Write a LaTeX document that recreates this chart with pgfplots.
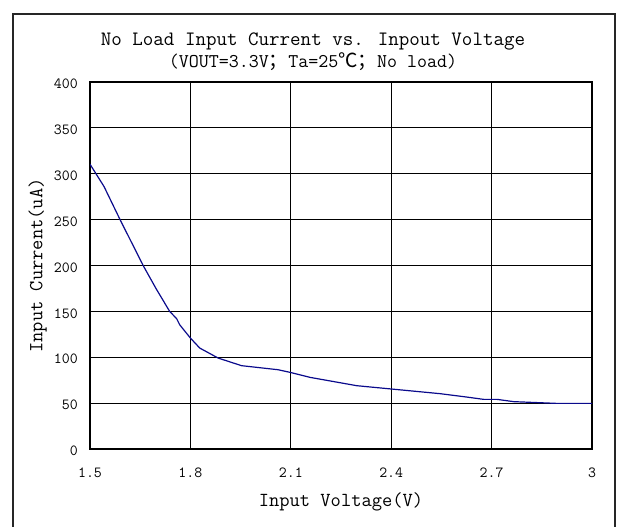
\documentclass[border=0pt]{standalone}
\usepackage{fontspec}
\usepackage{pgfplots}
\pgfplotsset{compat=1.18}
\newfontfamily\cjk{Noto Sans CJK SC}
\definecolor{curveblue}{RGB}{10,10,140}

\begin{document}
\begin{tikzpicture}[x=1bp,y=1bp]
\path[use as bounding box] (0,0) rectangle (619,527);
\draw[line width=1.3bp, black!85] (13,-5) -- (13,513) -- (615,513) -- (615,-5);
\begin{axis}[
    at={(90bp,78bp)}, anchor=south west,
    scale only axis, width=502bp, height=367bp,
    xmin=1.5, xmax=3, ymin=0, ymax=400,
    xtick={1.5,1.8,2.1,2.4,2.7,3},
    ytick={0,50,100,150,200,250,300,350,400},
    grid=major,
    grid style={black, line width=0.8bp},
    axis line style={black, line width=1.2bp},
    tick style={draw=none},
    /pgf/number format/assume math mode=true,
    ticklabel style={font=\ttfamily\fontsize{15.5}{15.5}\selectfont, inner sep=0pt},
    xticklabel style={anchor=center, yshift=-24bp},
    yticklabel style={anchor=east, xshift=-12bp, yshift=-2bp},
    xlabel={Input Voltage(V)},
    ylabel={Input Current(uA)},
    label style={font=\ttfamily\fontsize{20}{20}\selectfont},
    xlabel style={at={(axis description cs:0.5,0)}, anchor=base, yshift=-58bp},
    ylabel style={at={(axis description cs:-0.104,0.5)}, anchor=center},
]
\addplot[color=curveblue, line width=1.2bp] coordinates {
    (1.500,310.4) (1.542,286.0) (1.591,249.1) (1.660,199.2) (1.698,174.4)
    (1.738,150.0) (1.759,142.0) (1.768,135.4) (1.800,120.9) (1.828,110.0)
    (1.883,99.1) (1.953,90.8) (2.062,86.4) (2.098,83.5) (2.157,78.1)
    (2.297,69.0) (2.400,65.4) (2.546,60.3) (2.626,56.6) (2.676,54.1)
    (2.716,54.1) (2.766,51.6) (2.895,49.7) (3.000,49.7)
};
\end{axis}
\node[anchor=base, font=\ttfamily\fontsize{20.5}{20.5}\selectfont, inner sep=0pt] at (313,481) {No Load Input Current vs. Inpout Voltage};
\node[anchor=base, font=\ttfamily\fontsize{19.5}{19.5}\selectfont, inner sep=0pt] at (313,459) {(VOUT=3.3V{\cjk ；}Ta=25{\cjk ℃}{\cjk ；}No load)};
\end{tikzpicture}
\end{document}
